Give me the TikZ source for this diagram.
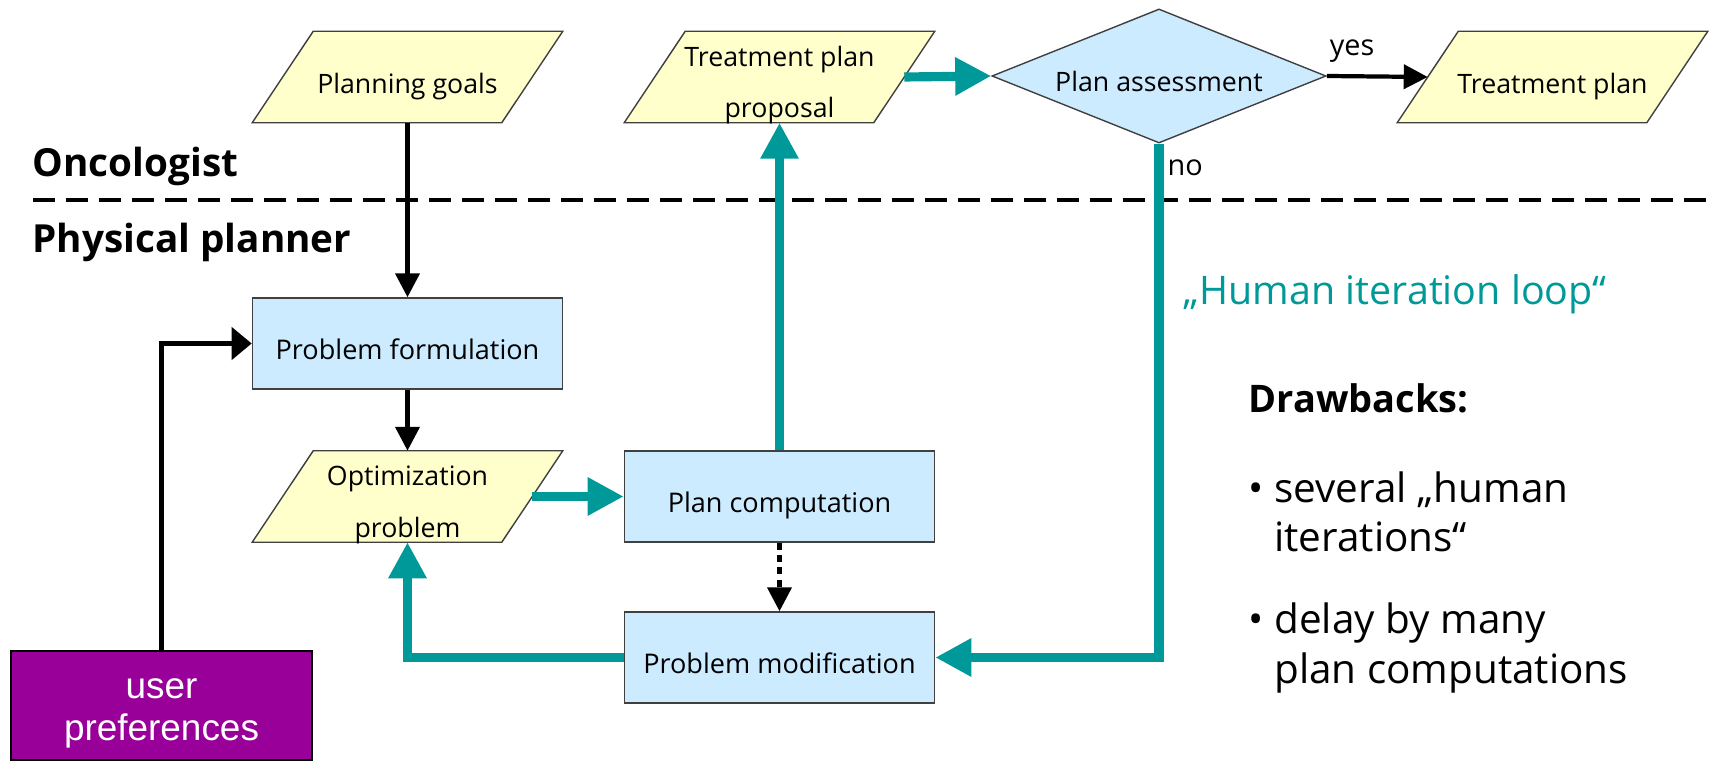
\documentclass[tikz,border=0pt]{standalone}
\usepackage{fontspec}
\setmainfont{Open Sans}
\newfontfamily\arialfont{Liberation Sans}
\usepackage{tikz}
\usetikzlibrary{arrows.meta,shapes.geometric,backgrounds}
\definecolor{datayellow}{RGB}{255,255,204}
\definecolor{procblue}{RGB}{204,235,255}
\definecolor{loopteal}{RGB}{0,153,153}
\definecolor{userpurple}{RGB}{153,0,153}

\begin{document}
\begin{tikzpicture}[x=0.01cm,y=-0.01cm,
    data/.style={rectangle,minimum width=2.48cm,minimum height=0.9cm,inner sep=0pt,
        text height=0.38cm,text depth=0.06cm,font=\fontsize{7.6}{14.6}\selectfont},
    datatwo/.style={data,align=center,text height=0.81cm,text depth=0cm},
    dataframe/.style={draw=black!75,fill=datayellow},
    proc/.style={rectangle,draw=black!75,fill=procblue,minimum width=3.1cm,minimum height=0.91cm,
        inner sep=0pt,text height=0.38cm,text depth=0.06cm,font=\fontsize{7.7}{9}\selectfont},
    decide/.style={diamond,draw=black!75,fill=procblue,minimum width=3.34cm,minimum height=1.34cm,
        aspect=2.5,inner sep=0pt,text height=0.36cm,text depth=0.06cm,font=\fontsize{7.6}{9}\selectfont},
    blackarrow/.style={line width=1.2pt,-{Triangle[length=0.24cm,width=0.24cm]}},
    tealarrow/.style={line width=2.6pt,loopteal,-{Triangle[length=0.36cm,width=0.36cm]}},
    lanelabel/.style={font=\bfseries\fontsize{11}{13}\selectfont,inner sep=0pt},
    bullettext/.style={align=left,inner sep=0pt,font=\fontsize{11.5}{14}\selectfont}]
\useasboundingbox (0,0) rectangle (1715,761);
\draw[line width=1.3pt,dash pattern=on 0.22cm off 0.11cm] (33,200) -- (1715,200);
\node[lanelabel,anchor=base west] (onco) at (32,177) {Oncologist};
\node[lanelabel,anchor=base west] (phys) at (32,253) {Physical planner};
\node[data] (goals) at (407.5,77) {Planning goals};
\node[datatwo] (proposal) at (779.5,77) {Treatment plan\\proposal};
\node[decide] (assess) at (1159,76) {Plan assessment};
\node[data] (final) at (1552.5,77) {Treatment plan};
\node[proc] (formul) at (407.5,343.5) {Problem formulation};
\node[datatwo] (optprob) at (407.5,496.5) {Optimization\\problem};
\node[proc] (plancomp) at (779.5,496.5) {Plan computation};
\node[proc] (probmod) at (779.5,657.5) {Problem modification};
\node[rectangle,draw=black,line width=0.8pt,fill=userpurple,text=white,minimum width=3.01cm,minimum height=1.09cm,
    align=center,text height=0.77cm,font=\arialfont\fontsize{10.5}{11.9}\selectfont] (userpref) at (161.5,705.5) {user\\preferences};
\begin{scope}[on background layer]
\foreach \n in {goals,proposal,final,optprob}
    \draw[dataframe] ([xshift=-0.305cm]\n.south west) -- ([xshift=-0.305cm]\n.south east)
        -- ([xshift=0.305cm]\n.north east) -- ([xshift=0.305cm]\n.north west) -- cycle;
\end{scope}
\draw[blackarrow] (goals.south) -- (formul.north);
\draw[blackarrow] (formul.south) -- (optprob.north);
\draw[line width=1.2pt,-{Triangle[length=0.2cm,width=0.32cm]}] (userpref.north) |- (formul.west);
\draw[blackarrow,dash pattern=on 2pt off 1.5pt] (plancomp.south) -- (probmod.north);
\draw[blackarrow] (assess.east) -- node[pos=0.25,above,font=\fontsize{8.2}{9}\selectfont] (yes) {yes} (final.west);
\draw[tealarrow] (optprob.east) -- (plancomp.west);
\draw[tealarrow] (plancomp.north) -- (proposal.south);
\draw[tealarrow] (proposal.east) -- (assess.west);
\draw[tealarrow] (assess.south) |- (probmod.east);
\draw[tealarrow] (probmod.west) -| (optprob.south);
\node[anchor=west,inner sep=0pt,font=\fontsize{8.2}{9}\selectfont] (no) at (1167,168) {no};
\node[anchor=base west,inner sep=0pt,text=loopteal,font=\fontsize{11.2}{14}\selectfont] (loop) at (1183,305) {„Human iteration loop“};
\node[anchor=west,inner sep=0pt,font=\bfseries\fontsize{10.8}{13}\selectfont] (drawb) at (1248,398) {Drawbacks:};
\node[bullettext,anchor=west] (bul1) at (1248,512) {\textbullet\kern3pt several „human\\\hphantom{\textbullet\kern3pt}iterations“};
\node[bullettext,anchor=west] (bul2) at (1248,648) {\textbullet\kern3pt delay by many\\\hphantom{\textbullet\kern3pt}plan computations};
\end{tikzpicture}
\end{document}
